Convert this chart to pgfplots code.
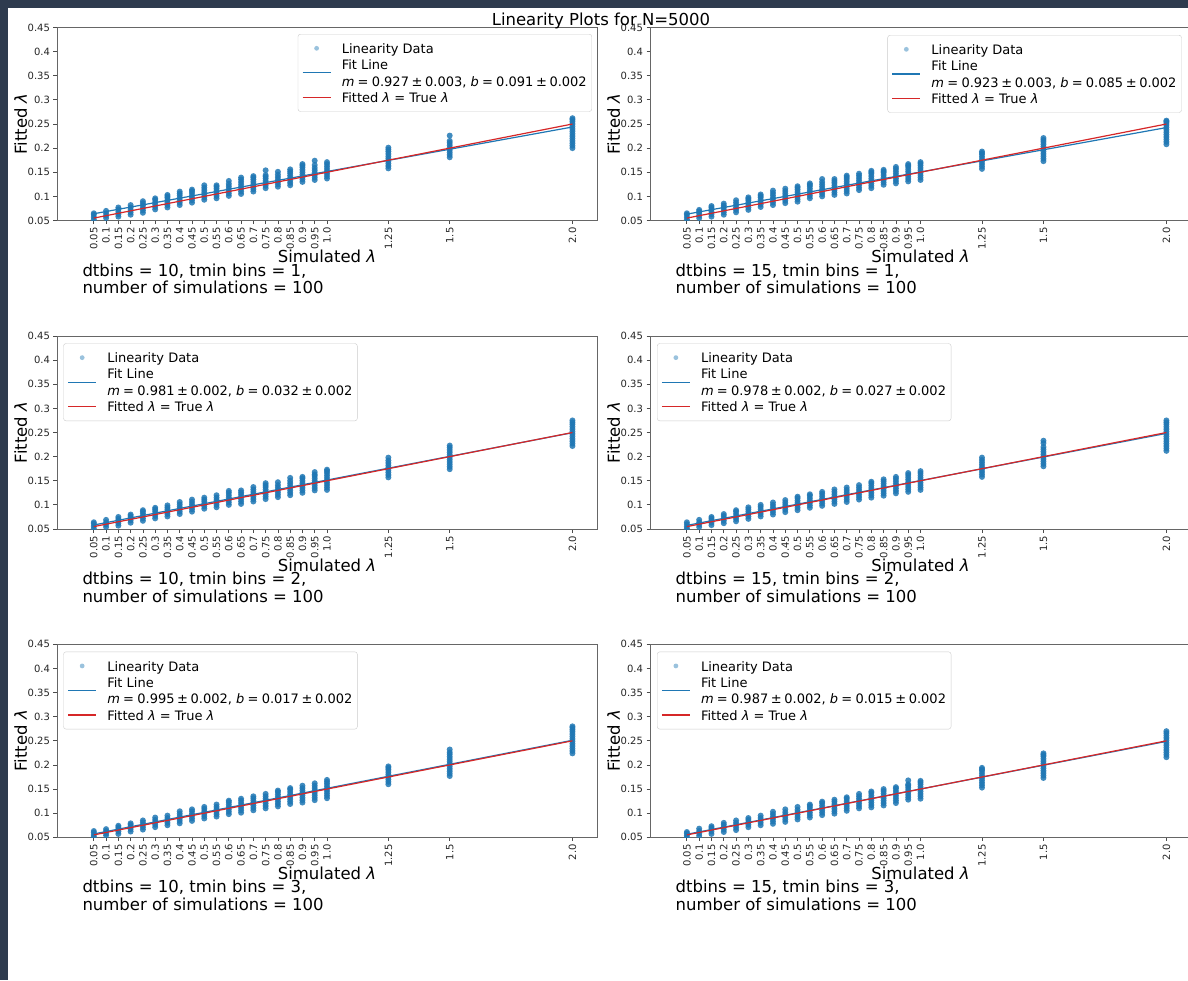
\documentclass[border=0pt]{standalone}
\usepackage{pgfplots}
\pgfplotsset{compat=1.18}
\usepackage{fontspec}
\setmainfont{DejaVu Sans}
\definecolor{c1}{HTML}{1F77B4}
\definecolor{c2}{HTML}{D62728}
\definecolor{framecol}{HTML}{2E3B4E}
\pgfdeclareplotmark{fdot}{\pgfpathcircle{\pgfpointorigin}{\pgfplotmarksize}\pgfusepathqfill}
\pgfplotsset{
  linax/.style={
    scale only axis, width=540pt, height=193pt,
    xmin=-0.1, xmax=2.1, ymin=0.05, ymax=0.45,
    xtick={0.05,0.1,0.15,0.2,0.25,0.3,0.35,0.4,0.45,0.5,0.55,0.6,0.65,0.7,0.75,0.8,0.85,0.9,0.95,1.0,1.25,1.5,2.0},
    xticklabels={0.05,0.1,0.15,0.2,0.25,0.3,0.35,0.4,0.45,0.5,0.55,0.6,0.65,0.7,0.75,0.8,0.85,0.9,0.95,1.0,1.25,1.5,2.0},
    ytick={0.05,0.1,0.15,0.2,0.25,0.3,0.35,0.4,0.45},
    yticklabels={0.05,0.1,0.15,0.2,0.25,0.3,0.35,0.4,0.45},
    tick align=outside, tick pos=left,
    major tick length=3.5pt,
    tick style={black!70, line width=0.8pt},
    axis line style={black!60, line width=0.8pt},
    xticklabel style={rotate=90, anchor=east, font=\fontsize{10}{11}\selectfont, text=black!85},
    yticklabel style={font=\fontsize{10}{11}\selectfont, text=black!85},
    xlabel={Simulated \textit{λ}}, ylabel={Fitted \textit{λ}},
    label style={font=\fontsize{16.5}{19}\selectfont},
    xlabel style={at={(axis description cs:0.5,-0.2187)}, anchor=base},
    ylabel style={at={(axis description cs:-0.0556,0.5)}, anchor=base},
    clip marker paths=true,
    legend cell align=left,
    legend style={font=\fontsize{13}{16.7}\selectfont, draw=black!20, rounded corners=2.5pt, fill=white, inner xsep=4pt, inner ysep=7pt, row sep=2pt, column sep=9.5pt, nodes={inner xsep=1pt, inner ysep=0.5pt}},
  },
  scat/.style={only marks, mark=fdot, mark size=3pt, color=c1, mark options={fill opacity=0.85},
    legend image code/.code={\path[draw=none] (0pt,0pt) (28pt,0pt); \path[draw=none, fill=c1!45, rounded corners=0pt] (14pt,0pt) circle (2.4pt);}},
  fitl/.style={c1, line width=1.2pt, no marks, legend image code/.code={\path[draw=none] (0pt,0pt) (28pt,0pt); \path[draw=c1, line width=1.3pt, rounded corners=0pt] (0pt,0pt) -- (28pt,0pt);}},
  redl/.style={c2, line width=1.2pt, no marks, legend image code/.code={\path[draw=none] (0pt,0pt) (28pt,0pt); \path[draw=c2, line width=1.3pt, rounded corners=0pt] (0pt,0pt) -- (28pt,0pt);}},
}
\newcommand{\eqsp}{\hspace{0.25em}=\hspace{0.25em}}
\newcommand{\pmsp}{\hspace{0.2em}±\hspace{0.2em}}
\newcommand{\fitentry}[4]{\vbox{\hbox{\strut Fit Line}\hbox{\strut\textit{m}\eqsp #1\pmsp #2, \textit{b}\eqsp #3\pmsp #4}}}
\newcommand{\dataentry}{\strut Linearity Data}
\newcommand{\trueentry}{\strut Fitted \textit{λ} = True \textit{λ}}
\begin{document}
\begin{tikzpicture}
\fill[white] (0,0) rectangle (1188pt,-980pt);
\path[use as bounding box] (0,0) rectangle (1188pt,-980pt);
\fill[framecol] (0,0) rectangle (7.5pt,-980pt);
\fill[framecol] (0,0) rectangle (1188pt,-7.5pt);

% ---------------- Panel 1 ----------------
\begin{axis}[linax, at={(57pt,-220.5pt)}, anchor=south west,
  legend style={at={(axis description cs:0.9907,0.9663)}, anchor=north east}]
\addplot[scat] coordinates {
(0.05,0.052)(0.05,0.057)(0.05,0.062)(0.05,0.065)
(0.1,0.055)(0.1,0.060)(0.1,0.065)(0.1,0.070)
(0.15,0.058)(0.15,0.063)(0.15,0.068)(0.15,0.073)(0.15,0.077)
(0.2,0.062)(0.2,0.067)(0.2,0.072)(0.2,0.077)(0.2,0.082)
(0.25,0.066)(0.25,0.071)(0.25,0.076)(0.25,0.081)(0.25,0.086)(0.25,0.090)
(0.3,0.073)(0.3,0.078)(0.3,0.083)(0.3,0.088)(0.3,0.093)(0.3,0.096)
(0.35,0.077)(0.35,0.082)(0.35,0.087)(0.35,0.092)(0.35,0.097)(0.35,0.100)(0.35,0.103)
(0.4,0.082)(0.4,0.087)(0.4,0.092)(0.4,0.097)(0.4,0.102)(0.4,0.106)(0.4,0.110)
(0.45,0.087)(0.45,0.092)(0.45,0.097)(0.45,0.102)(0.45,0.107)(0.45,0.111)(0.45,0.114)
(0.5,0.093)(0.5,0.098)(0.5,0.103)(0.5,0.108)(0.5,0.113)(0.5,0.118)(0.5,0.123)
(0.55,0.096)(0.55,0.101)(0.55,0.106)(0.55,0.111)(0.55,0.116)(0.55,0.120)(0.55,0.123)
(0.6,0.101)(0.6,0.106)(0.6,0.111)(0.6,0.116)(0.6,0.121)(0.6,0.126)(0.6,0.132)
(0.65,0.105)(0.65,0.110)(0.65,0.115)(0.65,0.120)(0.65,0.125)(0.65,0.130)(0.65,0.135)(0.65,0.139)
(0.7,0.110)(0.7,0.115)(0.7,0.120)(0.7,0.125)(0.7,0.130)(0.7,0.135)(0.7,0.139)(0.7,0.142)
(0.75,0.117)(0.75,0.122)(0.75,0.127)(0.75,0.132)(0.75,0.137)(0.75,0.141)(0.75,0.144)(0.75,0.154)
(0.8,0.120)(0.8,0.125)(0.8,0.130)(0.8,0.135)(0.8,0.140)(0.8,0.145)(0.8,0.151)
(0.85,0.123)(0.85,0.128)(0.85,0.133)(0.85,0.138)(0.85,0.143)(0.85,0.148)(0.85,0.152)(0.85,0.156)
(0.9,0.130)(0.9,0.135)(0.9,0.140)(0.9,0.145)(0.9,0.150)(0.9,0.155)(0.9,0.160)(0.9,0.164)(0.9,0.167)
(0.95,0.134)(0.95,0.139)(0.95,0.144)(0.95,0.149)(0.95,0.154)(0.95,0.159)(0.95,0.165)(0.95,0.174)
(1.0,0.137)(1.0,0.142)(1.0,0.147)(1.0,0.152)(1.0,0.157)(1.0,0.162)(1.0,0.167)(1.0,0.171)
(1.25,0.158)(1.25,0.163)(1.25,0.168)(1.25,0.173)(1.25,0.178)(1.25,0.183)(1.25,0.188)(1.25,0.193)(1.25,0.197)(1.25,0.201)
(1.5,0.181)(1.5,0.186)(1.5,0.191)(1.5,0.196)(1.5,0.201)(1.5,0.206)(1.5,0.211)(1.5,0.215)(1.5,0.226)
(2.0,0.200)(2.0,0.205)(2.0,0.210)(2.0,0.215)(2.0,0.220)(2.0,0.225)(2.0,0.230)(2.0,0.235)(2.0,0.240)(2.0,0.245)(2.0,0.250)(2.0,0.255)(2.0,0.259)(2.0,0.262)
};
\addlegendentry{\dataentry}
\addplot[fitl] coordinates {(0.05,0.064) (2.0,0.2438)};
\addlegendentry{\fitentry{0.927}{0.003}{0.091}{0.002}}
\addplot[redl] coordinates {(0.05,0.055) (2.0,0.25)};
\addlegendentry{\trueentry}
\end{axis}

% ---------------- Panel 2 ----------------
\begin{axis}[linax, at={(650pt,-220.5pt)}, anchor=south west, width=541pt,
  legend style={at={(axis description cs:0.9828,0.961)}, anchor=north east}]
\addplot[scat] coordinates {
(0.05,0.052)(0.05,0.057)(0.05,0.062)(0.05,0.065)
(0.1,0.055)(0.1,0.060)(0.1,0.065)(0.1,0.069)(0.1,0.072)
(0.15,0.058)(0.15,0.063)(0.15,0.068)(0.15,0.073)(0.15,0.077)(0.15,0.080)
(0.2,0.062)(0.2,0.067)(0.2,0.072)(0.2,0.077)(0.2,0.081)(0.2,0.085)
(0.25,0.067)(0.25,0.072)(0.25,0.077)(0.25,0.082)(0.25,0.087)(0.25,0.092)
(0.3,0.072)(0.3,0.077)(0.3,0.082)(0.3,0.087)(0.3,0.092)(0.3,0.095)(0.3,0.098)
(0.35,0.078)(0.35,0.083)(0.35,0.088)(0.35,0.093)(0.35,0.098)(0.35,0.101)(0.35,0.104)
(0.4,0.082)(0.4,0.087)(0.4,0.092)(0.4,0.097)(0.4,0.102)(0.4,0.107)(0.4,0.112)
(0.45,0.086)(0.45,0.091)(0.45,0.096)(0.45,0.101)(0.45,0.106)(0.45,0.111)(0.45,0.116)
(0.5,0.089)(0.5,0.094)(0.5,0.099)(0.5,0.104)(0.5,0.109)(0.5,0.114)(0.5,0.118)(0.5,0.121)
(0.55,0.096)(0.55,0.101)(0.55,0.106)(0.55,0.111)(0.55,0.116)(0.55,0.121)(0.55,0.124)(0.55,0.127)
(0.6,0.100)(0.6,0.105)(0.6,0.110)(0.6,0.115)(0.6,0.120)(0.6,0.125)(0.6,0.130)(0.6,0.136)
(0.65,0.103)(0.65,0.108)(0.65,0.113)(0.65,0.118)(0.65,0.123)(0.65,0.128)(0.65,0.132)(0.65,0.136)
(0.7,0.106)(0.7,0.111)(0.7,0.116)(0.7,0.121)(0.7,0.126)(0.7,0.131)(0.7,0.136)(0.7,0.140)(0.7,0.143)
(0.75,0.113)(0.75,0.118)(0.75,0.123)(0.75,0.128)(0.75,0.133)(0.75,0.138)(0.75,0.143)(0.75,0.147)
(0.8,0.117)(0.8,0.122)(0.8,0.127)(0.8,0.132)(0.8,0.137)(0.8,0.142)(0.8,0.147)(0.8,0.150)(0.8,0.153)
(0.85,0.124)(0.85,0.129)(0.85,0.134)(0.85,0.139)(0.85,0.144)(0.85,0.149)(0.85,0.152)(0.85,0.155)
(0.9,0.127)(0.9,0.132)(0.9,0.137)(0.9,0.142)(0.9,0.147)(0.9,0.152)(0.9,0.157)(0.9,0.161)
(0.95,0.131)(0.95,0.136)(0.95,0.141)(0.95,0.146)(0.95,0.151)(0.95,0.156)(0.95,0.161)(0.95,0.164)(0.95,0.167)
(1.0,0.134)(1.0,0.139)(1.0,0.144)(1.0,0.149)(1.0,0.154)(1.0,0.159)(1.0,0.164)(1.0,0.168)(1.0,0.171)
(1.25,0.157)(1.25,0.162)(1.25,0.167)(1.25,0.172)(1.25,0.177)(1.25,0.182)(1.25,0.187)(1.25,0.190)(1.25,0.193)
(1.5,0.173)(1.5,0.178)(1.5,0.183)(1.5,0.188)(1.5,0.193)(1.5,0.198)(1.5,0.203)(1.5,0.208)(1.5,0.213)(1.5,0.217)(1.5,0.221)
(2.0,0.208)(2.0,0.213)(2.0,0.218)(2.0,0.223)(2.0,0.228)(2.0,0.233)(2.0,0.238)(2.0,0.243)(2.0,0.248)(2.0,0.252)(2.0,0.255)(2.0,0.257)
};
\addlegendentry{\dataentry}
\addplot[fitl] coordinates {(0.05,0.0632) (2.0,0.2426)};
\addlegendentry{\fitentry{0.923}{0.003}{0.085}{0.002}}
\addplot[redl] coordinates {(0.05,0.055) (2.0,0.25)};
\addlegendentry{\trueentry}
\end{axis}

% ---------------- Panel 3 ----------------
\begin{axis}[linax, at={(57pt,-529pt)}, anchor=south west,
  legend style={at={(axis description cs:0.0117,0.962)}, anchor=north west}]
\addplot[scat] coordinates {
(0.05,0.051)(0.05,0.056)(0.05,0.061)(0.05,0.064)
(0.1,0.054)(0.1,0.059)(0.1,0.064)(0.1,0.069)
(0.15,0.057)(0.15,0.062)(0.15,0.067)(0.15,0.071)(0.15,0.075)
(0.2,0.063)(0.2,0.068)(0.2,0.073)(0.2,0.077)(0.2,0.080)
(0.25,0.067)(0.25,0.072)(0.25,0.077)(0.25,0.082)(0.25,0.086)(0.25,0.089)
(0.3,0.072)(0.3,0.077)(0.3,0.082)(0.3,0.087)(0.3,0.091)(0.3,0.094)
(0.35,0.076)(0.35,0.081)(0.35,0.086)(0.35,0.091)(0.35,0.095)(0.35,0.099)
(0.4,0.081)(0.4,0.086)(0.4,0.091)(0.4,0.096)(0.4,0.101)(0.4,0.106)
(0.45,0.086)(0.45,0.091)(0.45,0.096)(0.45,0.101)(0.45,0.106)(0.45,0.111)
(0.5,0.092)(0.5,0.097)(0.5,0.102)(0.5,0.107)(0.5,0.111)(0.5,0.115)
(0.55,0.095)(0.55,0.100)(0.55,0.105)(0.55,0.110)(0.55,0.115)(0.55,0.120)
(0.6,0.100)(0.6,0.105)(0.6,0.110)(0.6,0.115)(0.6,0.120)(0.6,0.125)(0.6,0.129)
(0.65,0.102)(0.65,0.107)(0.65,0.112)(0.65,0.117)(0.65,0.122)(0.65,0.126)(0.65,0.130)
(0.7,0.107)(0.7,0.112)(0.7,0.117)(0.7,0.122)(0.7,0.127)(0.7,0.132)(0.7,0.137)
(0.75,0.112)(0.75,0.117)(0.75,0.122)(0.75,0.127)(0.75,0.132)(0.75,0.137)(0.75,0.141)(0.75,0.145)
(0.8,0.116)(0.8,0.121)(0.8,0.126)(0.8,0.131)(0.8,0.136)(0.8,0.141)(0.8,0.147)
(0.85,0.120)(0.85,0.125)(0.85,0.130)(0.85,0.135)(0.85,0.140)(0.85,0.145)(0.85,0.150)(0.85,0.156)
(0.9,0.125)(0.9,0.130)(0.9,0.135)(0.9,0.140)(0.9,0.145)(0.9,0.150)(0.9,0.155)(0.9,0.158)
(0.95,0.130)(0.95,0.135)(0.95,0.140)(0.95,0.145)(0.95,0.150)(0.95,0.155)(0.95,0.160)(0.95,0.163)(0.95,0.168)
(1.0,0.131)(1.0,0.136)(1.0,0.141)(1.0,0.146)(1.0,0.151)(1.0,0.156)(1.0,0.161)(1.0,0.166)(1.0,0.170)(1.0,0.173)
(1.25,0.157)(1.25,0.162)(1.25,0.167)(1.25,0.172)(1.25,0.177)(1.25,0.182)(1.25,0.187)(1.25,0.192)(1.25,0.198)
(1.5,0.174)(1.5,0.179)(1.5,0.184)(1.5,0.189)(1.5,0.194)(1.5,0.199)(1.5,0.204)(1.5,0.209)(1.5,0.214)(1.5,0.219)(1.5,0.223)
(2.0,0.222)(2.0,0.227)(2.0,0.232)(2.0,0.237)(2.0,0.242)(2.0,0.247)(2.0,0.252)(2.0,0.257)(2.0,0.262)(2.0,0.267)(2.0,0.271)(2.0,0.275)
};
\addlegendentry{\dataentry}
\addplot[fitl] coordinates {(0.05,0.0583) (2.0,0.2496)};
\addlegendentry{\fitentry{0.981}{0.002}{0.032}{0.002}}
\addplot[redl] coordinates {(0.05,0.055) (2.0,0.25)};
\addlegendentry{\trueentry}
\end{axis}

% ---------------- Panel 4 ----------------
\begin{axis}[linax, at={(650pt,-529pt)}, anchor=south west, width=541pt,
  legend style={at={(axis description cs:0.013,0.962)}, anchor=north west}]
\addplot[scat] coordinates {
(0.05,0.051)(0.05,0.055)(0.05,0.060)(0.05,0.064)
(0.1,0.054)(0.1,0.059)(0.1,0.064)(0.1,0.069)
(0.15,0.058)(0.15,0.063)(0.15,0.068)(0.15,0.072)(0.15,0.075)
(0.2,0.062)(0.2,0.067)(0.2,0.072)(0.2,0.077)(0.2,0.081)
(0.25,0.066)(0.25,0.071)(0.25,0.076)(0.25,0.081)(0.25,0.086)(0.25,0.089)
(0.3,0.071)(0.3,0.076)(0.3,0.081)(0.3,0.086)(0.3,0.091)(0.3,0.095)
(0.35,0.076)(0.35,0.081)(0.35,0.086)(0.35,0.091)(0.35,0.096)(0.35,0.100)
(0.4,0.080)(0.4,0.085)(0.4,0.090)(0.4,0.095)(0.4,0.100)(0.4,0.105)
(0.45,0.085)(0.45,0.090)(0.45,0.095)(0.45,0.100)(0.45,0.105)(0.45,0.110)
(0.5,0.089)(0.5,0.094)(0.5,0.099)(0.5,0.104)(0.5,0.109)(0.5,0.114)(0.5,0.117)
(0.55,0.094)(0.55,0.099)(0.55,0.104)(0.55,0.109)(0.55,0.114)(0.55,0.119)(0.55,0.122)
(0.6,0.098)(0.6,0.103)(0.6,0.108)(0.6,0.113)(0.6,0.118)(0.6,0.123)(0.6,0.127)
(0.65,0.102)(0.65,0.107)(0.65,0.112)(0.65,0.117)(0.65,0.122)(0.65,0.127)(0.65,0.132)
(0.7,0.106)(0.7,0.111)(0.7,0.116)(0.7,0.121)(0.7,0.126)(0.7,0.131)(0.7,0.136)
(0.75,0.111)(0.75,0.116)(0.75,0.121)(0.75,0.126)(0.75,0.131)(0.75,0.136)(0.75,0.141)
(0.8,0.115)(0.8,0.120)(0.8,0.125)(0.8,0.130)(0.8,0.135)(0.8,0.140)(0.8,0.145)(0.8,0.148)
(0.85,0.119)(0.85,0.124)(0.85,0.129)(0.85,0.134)(0.85,0.139)(0.85,0.144)(0.85,0.149)(0.85,0.153)
(0.9,0.124)(0.9,0.129)(0.9,0.134)(0.9,0.139)(0.9,0.144)(0.9,0.149)(0.9,0.154)(0.9,0.158)
(0.95,0.127)(0.95,0.132)(0.95,0.137)(0.95,0.142)(0.95,0.147)(0.95,0.152)(0.95,0.157)(0.95,0.162)(0.95,0.166)
(1.0,0.131)(1.0,0.136)(1.0,0.141)(1.0,0.146)(1.0,0.151)(1.0,0.156)(1.0,0.161)(1.0,0.166)(1.0,0.170)
(1.25,0.158)(1.25,0.163)(1.25,0.168)(1.25,0.173)(1.25,0.178)(1.25,0.183)(1.25,0.188)(1.25,0.193)(1.25,0.198)
(1.5,0.180)(1.5,0.185)(1.5,0.190)(1.5,0.195)(1.5,0.200)(1.5,0.205)(1.5,0.210)(1.5,0.215)(1.5,0.220)(1.5,0.228)(1.5,0.233)
(2.0,0.212)(2.0,0.217)(2.0,0.222)(2.0,0.227)(2.0,0.232)(2.0,0.237)(2.0,0.242)(2.0,0.247)(2.0,0.252)(2.0,0.257)(2.0,0.262)(2.0,0.267)(2.0,0.271)(2.0,0.275)
};
\addlegendentry{\dataentry}
\addplot[fitl] coordinates {(0.05,0.0575) (2.0,0.2482)};
\addlegendentry{\fitentry{0.978}{0.002}{0.027}{0.002}}
\addplot[redl] coordinates {(0.05,0.055) (2.0,0.25)};
\addlegendentry{\trueentry}
\end{axis}

% ---------------- Panel 5 ----------------
\begin{axis}[linax, at={(57pt,-837.3pt)}, anchor=south west,
  legend style={at={(axis description cs:0.0117,0.962)}, anchor=north west}]
\addplot[scat] coordinates {
(0.05,0.051)(0.05,0.055)(0.05,0.060)(0.05,0.063)
(0.1,0.054)(0.1,0.058)(0.1,0.063)(0.1,0.067)
(0.15,0.057)(0.15,0.062)(0.15,0.067)(0.15,0.071)(0.15,0.074)
(0.2,0.062)(0.2,0.067)(0.2,0.072)(0.2,0.076)(0.2,0.079)
(0.25,0.066)(0.25,0.071)(0.25,0.076)(0.25,0.081)(0.25,0.085)
(0.3,0.071)(0.3,0.076)(0.3,0.081)(0.3,0.086)(0.3,0.091)
(0.35,0.075)(0.35,0.080)(0.35,0.085)(0.35,0.090)(0.35,0.095)
(0.4,0.079)(0.4,0.084)(0.4,0.089)(0.4,0.094)(0.4,0.099)(0.4,0.104)
(0.45,0.084)(0.45,0.089)(0.45,0.094)(0.45,0.099)(0.45,0.104)(0.45,0.108)
(0.5,0.089)(0.5,0.094)(0.5,0.099)(0.5,0.104)(0.5,0.109)(0.5,0.113)
(0.55,0.093)(0.55,0.098)(0.55,0.103)(0.55,0.108)(0.55,0.113)(0.55,0.118)
(0.6,0.098)(0.6,0.103)(0.6,0.108)(0.6,0.113)(0.6,0.118)(0.6,0.123)(0.6,0.126)
(0.65,0.101)(0.65,0.106)(0.65,0.111)(0.65,0.116)(0.65,0.121)(0.65,0.126)(0.65,0.130)
(0.7,0.106)(0.7,0.111)(0.7,0.116)(0.7,0.121)(0.7,0.126)(0.7,0.131)(0.7,0.135)
(0.75,0.110)(0.75,0.115)(0.75,0.120)(0.75,0.125)(0.75,0.130)(0.75,0.135)(0.75,0.140)
(0.8,0.114)(0.8,0.119)(0.8,0.124)(0.8,0.129)(0.8,0.134)(0.8,0.139)(0.8,0.144)(0.8,0.147)
(0.85,0.119)(0.85,0.124)(0.85,0.129)(0.85,0.134)(0.85,0.139)(0.85,0.144)(0.85,0.149)(0.85,0.152)
(0.9,0.122)(0.9,0.127)(0.9,0.132)(0.9,0.137)(0.9,0.142)(0.9,0.147)(0.9,0.152)(0.9,0.157)
(0.95,0.127)(0.95,0.132)(0.95,0.137)(0.95,0.142)(0.95,0.147)(0.95,0.152)(0.95,0.157)(0.95,0.162)
(1.0,0.131)(1.0,0.136)(1.0,0.141)(1.0,0.146)(1.0,0.151)(1.0,0.156)(1.0,0.161)(1.0,0.165)(1.0,0.169)
(1.25,0.160)(1.25,0.165)(1.25,0.170)(1.25,0.175)(1.25,0.180)(1.25,0.185)(1.25,0.190)(1.25,0.194)(1.25,0.197)
(1.5,0.177)(1.5,0.182)(1.5,0.187)(1.5,0.192)(1.5,0.197)(1.5,0.202)(1.5,0.207)(1.5,0.212)(1.5,0.217)(1.5,0.222)(1.5,0.226)(1.5,0.232)
(2.0,0.224)(2.0,0.229)(2.0,0.234)(2.0,0.239)(2.0,0.244)(2.0,0.249)(2.0,0.254)(2.0,0.259)(2.0,0.264)(2.0,0.269)(2.0,0.273)(2.0,0.277)(2.0,0.280)
};
\addlegendentry{\dataentry}
\addplot[fitl] coordinates {(0.05,0.0570) (2.0,0.2511)};
\addlegendentry{\fitentry{0.995}{0.002}{0.017}{0.002}}
\addplot[redl] coordinates {(0.05,0.055) (2.0,0.25)};
\addlegendentry{\trueentry}
\end{axis}

% ---------------- Panel 6 ----------------
\begin{axis}[linax, at={(650pt,-837.3pt)}, anchor=south west, width=541pt,
  legend style={at={(axis description cs:0.013,0.962)}, anchor=north west}]
\addplot[scat] coordinates {
(0.05,0.050)(0.05,0.054)(0.05,0.058)(0.05,0.061)
(0.1,0.053)(0.1,0.058)(0.1,0.063)(0.1,0.068)
(0.15,0.057)(0.15,0.062)(0.15,0.067)(0.15,0.070)(0.15,0.073)
(0.2,0.061)(0.2,0.066)(0.2,0.071)(0.2,0.076)(0.2,0.080)
(0.25,0.065)(0.25,0.070)(0.25,0.075)(0.25,0.080)(0.25,0.085)
(0.3,0.071)(0.3,0.076)(0.3,0.081)(0.3,0.086)(0.3,0.090)
(0.35,0.075)(0.35,0.080)(0.35,0.085)(0.35,0.090)(0.35,0.095)
(0.4,0.078)(0.4,0.083)(0.4,0.088)(0.4,0.093)(0.4,0.098)(0.4,0.103)
(0.45,0.082)(0.45,0.087)(0.45,0.092)(0.45,0.097)(0.45,0.102)(0.45,0.108)
(0.5,0.087)(0.5,0.092)(0.5,0.097)(0.5,0.102)(0.5,0.107)(0.5,0.113)
(0.55,0.091)(0.55,0.096)(0.55,0.101)(0.55,0.106)(0.55,0.111)(0.55,0.115)(0.55,0.118)
(0.6,0.096)(0.6,0.101)(0.6,0.106)(0.6,0.111)(0.6,0.116)(0.6,0.121)(0.6,0.124)
(0.65,0.099)(0.65,0.104)(0.65,0.109)(0.65,0.114)(0.65,0.119)(0.65,0.124)(0.65,0.128)
(0.7,0.105)(0.7,0.110)(0.7,0.115)(0.7,0.120)(0.7,0.125)(0.7,0.130)(0.7,0.133)
(0.75,0.110)(0.75,0.115)(0.75,0.120)(0.75,0.125)(0.75,0.130)(0.75,0.135)(0.75,0.140)
(0.8,0.112)(0.8,0.117)(0.8,0.122)(0.8,0.127)(0.8,0.132)(0.8,0.137)(0.8,0.142)(0.8,0.145)
(0.85,0.116)(0.85,0.121)(0.85,0.126)(0.85,0.131)(0.85,0.136)(0.85,0.141)(0.85,0.146)(0.85,0.150)
(0.9,0.121)(0.9,0.126)(0.9,0.131)(0.9,0.136)(0.9,0.141)(0.9,0.146)(0.9,0.151)(0.9,0.154)
(0.95,0.128)(0.95,0.133)(0.95,0.138)(0.95,0.143)(0.95,0.148)(0.95,0.153)(0.95,0.157)(0.95,0.160)(0.95,0.168)
(1.0,0.130)(1.0,0.135)(1.0,0.140)(1.0,0.145)(1.0,0.150)(1.0,0.155)(1.0,0.160)(1.0,0.164)(1.0,0.167)
(1.25,0.153)(1.25,0.158)(1.25,0.163)(1.25,0.168)(1.25,0.173)(1.25,0.178)(1.25,0.183)(1.25,0.188)(1.25,0.191)(1.25,0.194)
(1.5,0.173)(1.5,0.178)(1.5,0.183)(1.5,0.188)(1.5,0.193)(1.5,0.198)(1.5,0.203)(1.5,0.208)(1.5,0.213)(1.5,0.218)(1.5,0.221)(1.5,0.224)
(2.0,0.216)(2.0,0.221)(2.0,0.226)(2.0,0.231)(2.0,0.236)(2.0,0.241)(2.0,0.246)(2.0,0.251)(2.0,0.256)(2.0,0.261)(2.0,0.266)(2.0,0.270)
};
\addlegendentry{\dataentry}
\addplot[fitl] coordinates {(0.05,0.0563) (2.0,0.2488)};
\addlegendentry{\fitentry{0.987}{0.002}{0.015}{0.002}}
\addplot[redl] coordinates {(0.05,0.055) (2.0,0.25)};
\addlegendentry{\trueentry}
\end{axis}

\node[anchor=base, font=\fontsize{16.5}{19}\selectfont] at (601pt,-25pt) {Linearity Plots for N=5000};

\begin{scope}[every node/.style={anchor=base west, font=\fontsize{16.5}{19}\selectfont, inner sep=0pt}]
\node at (82.3pt,-276pt) {dtbins = 10, tmin bins = 1,};
\node at (82.3pt,-293.5pt) {number of simulations = 100};
\node at (675.5pt,-276pt) {dtbins = 15, tmin bins = 1,};
\node at (675.5pt,-293.5pt) {number of simulations = 100};
\node at (82.3pt,-584.5pt) {dtbins = 10, tmin bins = 2,};
\node at (82.3pt,-602pt) {number of simulations = 100};
\node at (675.5pt,-584.5pt) {dtbins = 15, tmin bins = 2,};
\node at (675.5pt,-602pt) {number of simulations = 100};
\node at (82.3pt,-892.5pt) {dtbins = 10, tmin bins = 3,};
\node at (82.3pt,-910pt) {number of simulations = 100};
\node at (675.5pt,-892.5pt) {dtbins = 15, tmin bins = 3,};
\node at (675.5pt,-910pt) {number of simulations = 100};
\end{scope}
\end{tikzpicture}
\end{document}
